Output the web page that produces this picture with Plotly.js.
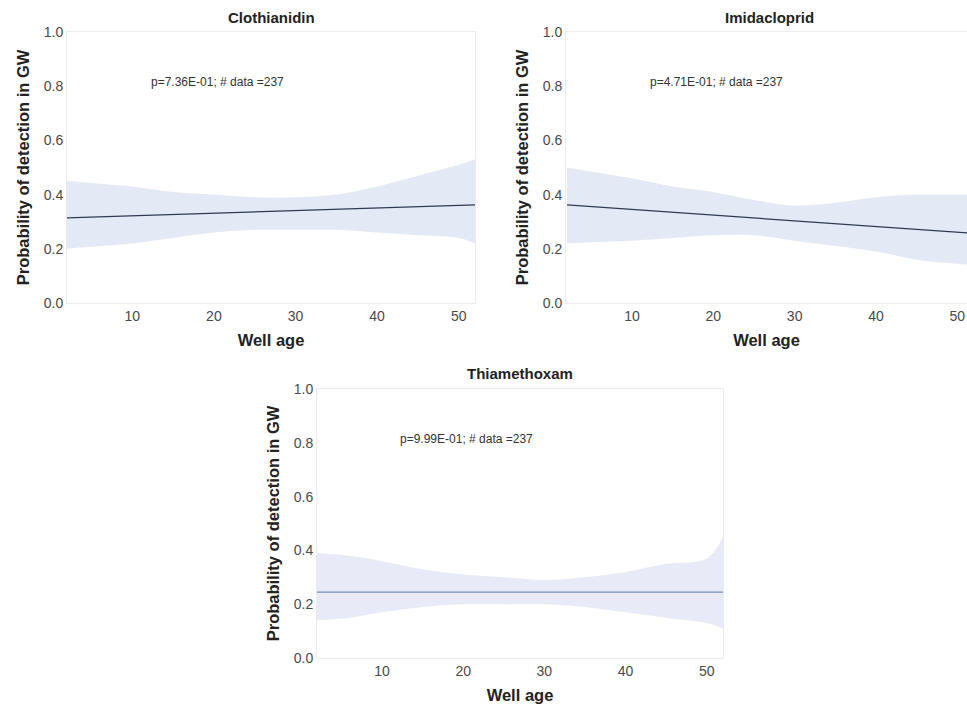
<!DOCTYPE html>
<html>
<head>
<meta charset="utf-8">
<script src="https://cdn.plot.ly/plotly-3.0.1.min.js"></script>
<style>
html,body{margin:0;padding:0;background:#fff;overflow:hidden;}
#chart{width:967px;height:707px;}
</style>
</head>
<body>
<div id="chart"></div>
<script>
// ---- data ----
const panelTitles = ["Clothianidin", "Imidacloprid", "Thiamethoxam"];
const pValues = ["7.36E-01", "4.71E-01", "9.99E-01"];
const nData = [237, 237, 237];

// fitted line (well age -> probability)
const lineAge = [2, 52];
const clothLine = [0.314, 0.362];
const imidaLine = [0.362, 0.257];
const thiaLine = [0.245, 0.245];

// confidence band
const bandAge = [2, 6, 10, 15, 20, 25, 30, 35, 40, 45, 50, 52];
const clothUpper = [0.45, 0.44, 0.43, 0.41, 0.40, 0.39, 0.39, 0.40, 0.43, 0.47, 0.51, 0.53];
const clothLower = [0.20, 0.21, 0.22, 0.24, 0.26, 0.27, 0.27, 0.27, 0.26, 0.25, 0.24, 0.22];
const imidaUpper = [0.50, 0.48, 0.46, 0.43, 0.41, 0.38, 0.36, 0.37, 0.39, 0.40, 0.40, 0.40];
const imidaLower = [0.22, 0.225, 0.23, 0.24, 0.25, 0.25, 0.23, 0.21, 0.19, 0.16, 0.145, 0.14];
const thiaUpper = [0.39, 0.38, 0.36, 0.33, 0.31, 0.30, 0.29, 0.30, 0.32, 0.35, 0.37, 0.45];
const thiaLower = [0.14, 0.15, 0.17, 0.19, 0.20, 0.20, 0.20, 0.19, 0.17, 0.15, 0.13, 0.11];

const yTicks = [0, 0.2, 0.4, 0.6, 0.8, 1.0];
const xTicks = [10, 20, 30, 40, 50];

// ---- build traces ----
const bandColors = ["rgba(190,206,230,0.42)", "rgba(190,206,230,0.42)", "rgba(200,205,235,0.42)"];
const lineColors = ["#2e3a52", "#2e3a52", "#6f8db8"];
const series = [
  {up: clothUpper, lo: clothLower, line: clothLine},
  {up: imidaUpper, lo: imidaLower, line: imidaLine},
  {up: thiaUpper, lo: thiaLower, line: thiaLine}
];
const traces = [];
series.forEach((s, i) => {
  const xa = i === 0 ? "x" : "x" + (i + 1);
  const ya = i === 0 ? "y" : "y" + (i + 1);
  traces.push({x: bandAge, y: s.lo, xaxis: xa, yaxis: ya, mode: "lines",
    line: {width: 0, shape: "spline"}, hoverinfo: "skip", showlegend: false});
  traces.push({x: bandAge, y: s.up, xaxis: xa, yaxis: ya, mode: "lines", fill: "tonexty",
    fillcolor: bandColors[i], line: {width: 0, shape: "spline"}, hoverinfo: "skip", showlegend: false});
  traces.push({x: lineAge, y: s.line, xaxis: xa, yaxis: ya, mode: "lines",
    line: {width: 1.2, color: lineColors[i]}, showlegend: false});
});

// ---- layout ----
const W = 967, H = 707;
const fx = p => p / W, fy = p => 1 - p / H;
const FAM = "Liberation Sans, Arial, sans-serif";
const tickFont = {family: FAM, size: 14, color: "#4a4a4a"};
const titleFont = {family: FAM, size: 16.5, color: "#222"};

function xAxis(domain, range, anchor) {
  return {domain: domain, range: range, anchor: anchor, tickvals: xTicks, ticks: "",
    tickfont: tickFont, showgrid: false, zeroline: false, showline: true, mirror: true,
    linecolor: "#ececec", linewidth: 1,
    title: {text: "<b>Well age</b>", font: titleFont, standoff: 11}};
}
function yAxis(domain, anchor) {
  return {domain: domain, range: [0, 1], anchor: anchor, tickvals: yTicks, tickformat: ".1f",
    ticks: "", tickfont: tickFont, showgrid: false, zeroline: false, showline: true, mirror: true,
    linecolor: "#ececec", linewidth: 1,
    title: {text: "<b>Probability of detection in GW</b>", font: titleFont, standoff: 9}};
}

const layout = {
  width: W, height: H,
  margin: {l: 0, r: 0, t: 0, b: 0},
  paper_bgcolor: "#fff", plot_bgcolor: "#fff",
  showlegend: false,
  font: {family: FAM},
  xaxis: xAxis([fx(67), fx(475)], [2, 52], "y"),
  yaxis: yAxis([fy(303), fy(32)], "x"),
  xaxis2: xAxis([fx(566), 1], [1.88, 51.2], "y2"),
  yaxis2: yAxis([fy(303), fy(32)], "x2"),
  xaxis3: xAxis([fx(317), fx(723)], [2, 52], "y3"),
  yaxis3: yAxis([fy(658), fy(389)], "x3"),
  annotations: []
};

const titlePos = [[fx(271), fy(17)], [fx(769), fy(17)], [fx(520), fy(373)]];
panelTitles.forEach((t, i) => {
  layout.annotations.push({text: "<b>" + t + "</b>", xref: "paper", yref: "paper",
    x: titlePos[i][0], y: titlePos[i][1], xanchor: "center", yanchor: "middle",
    showarrow: false, font: {family: FAM, size: 15, color: "#222"}});
  const xr = i === 0 ? "x" : "x" + (i + 1);
  const yr = i === 0 ? "y" : "y" + (i + 1);
  layout.annotations.push({text: "p=" + pValues[i] + "; # data =" + nData[i],
    xref: xr, yref: yr, x: 12, y: 0.815, xanchor: "left", yanchor: "middle",
    showarrow: false, font: {family: FAM, size: 12, color: "#333"}});
});

Plotly.newPlot("chart", traces, layout, {staticPlot: true, displayModeBar: false});
</script>
</body>
</html>
